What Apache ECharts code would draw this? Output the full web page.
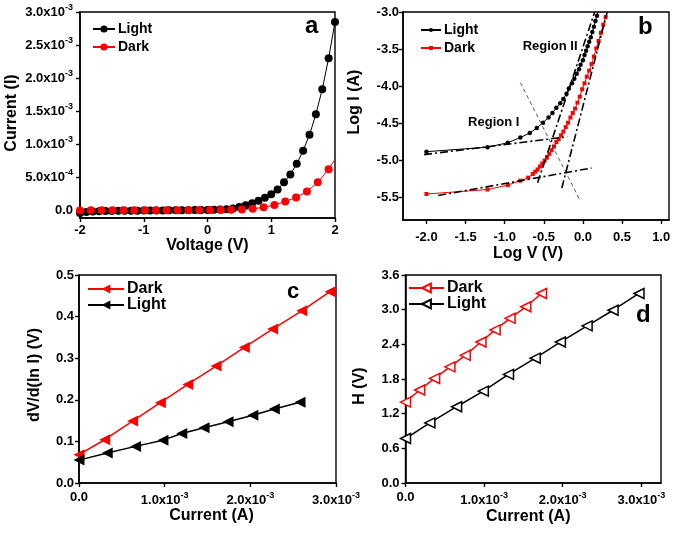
<!DOCTYPE html>
<html><head><meta charset="utf-8">
<script src="https://cdn.jsdelivr.net/npm/echarts@6/dist/echarts.min.js"></script>
<style>html,body{margin:0;padding:0;background:#fff}#c{width:674px;height:536px}</style>
</head><body><div id="c"></div>
<script>
// ---------- Panel a : I-V (current in mA units, converted below) ----------
const MILLI = 1e-3;
const aLightV = [-2.0,-1.9,-1.8,-1.7,-1.6,-1.5,-1.4,-1.3,-1.2,-1.1,-1.0,-0.9,-0.8,-0.7,-0.6,-0.5,-0.4,-0.3,-0.2,-0.1,
                 0.0,0.1,0.2,0.3,0.4,0.5,0.6,0.7,0.8,0.9,1.0,1.1,1.2,1.3,1.4,1.5,1.6,1.7,1.8,1.9,2.0];
const aLightI = [-0.045,-0.03,-0.022,-0.018,-0.015,-0.013,-0.012,-0.011,-0.010,-0.009,-0.008,-0.007,-0.006,-0.005,-0.004,-0.003,-0.002,-0.001,0,0.001,
                 0.002,0.004,0.007,0.012,0.025,0.045,0.075,0.105,0.14,0.185,0.24,0.31,0.42,0.54,0.70,0.90,1.14,1.45,1.83,2.30,2.85];
const aDarkV = [-2.00,-1.83,-1.66,-1.49,-1.32,-1.15,-0.98,-0.81,-0.64,-0.47,-0.30,-0.13,0.04,0.21,0.37,0.54,0.71,0.88,1.05,1.22,1.39,1.56,1.73,1.90,2.00];
const aDarkI = [-0.005,-0.004,-0.004,-0.003,-0.003,-0.002,-0.002,-0.002,-0.001,-0.001,0,0,0.001,0.002,0.005,0.01,0.02,0.041,0.076,0.13,0.19,0.28,0.42,0.62,0.77];
const aYTicks = [0,0.5e-3,1.0e-3,1.5e-3,2.0e-3,2.5e-3,3.0e-3];

// ---------- Panel b : log-log ----------
const bLightLogV = [-2.00,-1.22,-0.96,-0.80,-0.68,-0.59,-0.51,-0.44,-0.39,-0.34,-0.29,-0.25,-0.21,-0.18,-0.14,-0.11,-0.08,-0.05,-0.03,0.00,
                    0.02,0.04,0.06,0.08,0.10,0.12,0.14,0.16,0.18,0.20];
const bLightLogI = [-4.88,-4.82,-4.76,-4.69,-4.63,-4.56,-4.49,-4.42,-4.36,-4.29,-4.23,-4.17,-4.10,-4.03,-3.96,-3.90,-3.83,-3.77,-3.71,-3.65,
                    -3.58,-3.52,-3.46,-3.40,-3.34,-3.27,-3.20,-3.12,-3.05,-2.97];
const bDarkLogV = [-2.00,-1.22,-0.96,-0.80,-0.70,-0.64,-0.61,-0.58,-0.55,-0.52,-0.49,-0.46,-0.43,-0.40,-0.37,-0.34,-0.31,-0.28,-0.25,-0.22,
                   -0.19,-0.16,-0.13,-0.10,-0.07,-0.04,-0.01,0.02,0.05,0.08,0.11,0.14,0.17,0.20,0.23,0.26,0.29,0.32];
const bDarkLogI = [-5.45,-5.39,-5.33,-5.27,-5.23,-5.18,-5.15,-5.12,-5.08,-5.04,-5.00,-4.96,-4.91,-4.86,-4.81,-4.75,-4.71,-4.66,-4.61,-4.55,
                   -4.49,-4.42,-4.36,-4.30,-4.22,-4.14,-4.04,-3.96,-3.87,-3.79,-3.70,-3.60,-3.49,-3.39,-3.28,-3.17,-3.07,-2.96];
const bFitLightI  = [[-2.03,-4.92],[-0.20,-4.68]];
const bFitDarkI   = [[-1.85,-5.47],[0.11,-5.10]];
const bFitLightII = [[-0.58,-5.30],[0.15,-3.00]];
const bFitDarkII  = [[-0.27,-5.37],[0.31,-3.00]];
const bGuide      = [[-0.80,-3.95],[-0.05,-5.51]];
const bRegionNames = ['Region I','Region II'];
const bRegionPos   = [[-1.14,-4.48],[-0.42,-3.47]];
const bXTicks = [-2.0,-1.5,-1.0,-0.5,0.0,0.5,1.0];
const bYTicks = [-5.5,-5.0,-4.5,-4.0,-3.5,-3.0];

// ---------- Panel c : dV/d(ln I) vs I (current in mA units) ----------
const cDarkI  = [0.0,0.30,0.625,0.95,1.27,1.60,1.93,2.26,2.60,2.93];
const cDarkY  = [0.068,0.104,0.149,0.193,0.237,0.281,0.326,0.370,0.414,0.460];
const cLightI = [0.0,0.33,0.66,0.98,1.20,1.46,1.74,2.03,2.28,2.58];
const cLightY = [0.055,0.072,0.088,0.103,0.119,0.133,0.147,0.163,0.178,0.194];

// ---------- Panel d : H(I) vs I (current in mA units) ----------
const dDarkI  = [0.0,0.18,0.37,0.565,0.76,0.96,1.14,1.33,1.53,1.73];
const dDarkH  = [1.40,1.61,1.81,2.01,2.21,2.44,2.65,2.85,3.05,3.28];
const dLightI = [0.0,0.31,0.65,0.99,1.31,1.65,1.97,2.31,2.64,2.97];
const dLightH = [0.77,1.04,1.32,1.59,1.88,2.16,2.44,2.72,2.99,3.28];
const dXTicks = [0,1e-3,2e-3,3e-3];

// ---------- helpers ----------
const FONT = '"Liberation Sans", Arial, sans-serif';
const RED = '#ff0000', BLK = '#000000';
const zip = (xs, ys, kx = 1, ky = 1) => xs.map((x, i) => [x * kx, ys[i] * ky]);
const sci = v => {
  if (Math.abs(v) < 1e-12) return '0.0';
  const e = Math.floor(Math.log10(Math.abs(v)) + 1e-9);
  const m = v / Math.pow(10, e);
  return '{m|' + m.toFixed(1) + 'x10}{s|' + e + '}';
};
const rich = {
  m: {fontSize: 13, fontWeight: 'bold', fontFamily: FONT, color: '#000'},
  s: {fontSize: 9, fontWeight: 'bold', fontFamily: FONT, color: '#000', padding: [0, 0, 9, 0]}
};
function ax(o) {
  const a = {
    type: 'value', gridIndex: o.g, min: o.min, max: o.max,
    axisLine: {show: true, onZero: false, lineStyle: {color: '#000', width: 1.6}},
    axisTick: {show: true, inside: false, length: 4, lineStyle: {color: '#000', width: 1.4}},
    axisLabel: {color: '#000', fontWeight: 'bold', fontSize: 13, fontFamily: FONT, margin: o.margin,
                formatter: o.fmt, rich: rich},
    splitLine: {show: false},
    name: o.name, nameLocation: 'middle', nameGap: o.gap,
    nameTextStyle: {color: '#000', fontWeight: 'bold', fontSize: 16, fontFamily: FONT, padding: o.pad || 0}
  };
  if (o.interval !== undefined) a.interval = o.interval;
  if (o.ticks) { a.axisLabel.customValues = o.ticks; a.axisTick.customValues = o.ticks; }
  return a;
}
function legend(names, left, top, w, h, gap, fs, lh) {
  return {data: names, left: left, top: top, orient: 'vertical', itemWidth: w, itemHeight: h, itemGap: gap,
    selectedMode: false, padding: 0, formatter: n => n.split('|')[1],
    textStyle: {fontSize: fs, lineHeight: lh, fontWeight: 'bold', fontFamily: FONT, color: '#000', padding: [0, 0, 0, -2]}};
}
function fit(name, data, dashed) {
  return {name: name, type: 'line', xAxisIndex: 1, yAxisIndex: 1, data: data, symbol: 'none', silent: true, z: 5,
    lineStyle: dashed ? {color: '#333', width: 0.8, type: [4, 3]} : {color: '#000', width: 1.6, type: [8, 3, 2, 3]}};
}

const aDarkData = zip(aDarkV, aDarkI, 1, MILLI).map((p, i, arr) => i === arr.length - 1 ? {value: p, symbol: 'none'} : p);

const option = {
  animation: false,
  backgroundColor: '#fff',
  grid: [
    {left: 80, top: 12, width: 255, height: 206, show: true, borderColor: '#000', borderWidth: 1.4, backgroundColor: 'transparent'},
    {left: 403, top: 12, width: 266, height: 208, show: true, borderColor: '#000', borderWidth: 1.4, backgroundColor: 'transparent'},
    {left: 79, top: 275, width: 257, height: 208, show: true, borderColor: '#000', borderWidth: 1.4, backgroundColor: 'transparent'},
    {left: 405.5, top: 275, width: 255.5, height: 208, show: true, borderColor: '#000', borderWidth: 1.4, backgroundColor: 'transparent'}
  ],
  xAxis: [
    ax({g: 0, min: -2, max: 2, interval: 1, margin: 6, fmt: v => String(Math.round(v)), name: 'Voltage (V)', gap: 20}),
    ax({g: 1, min: -2.3, max: 1.1, ticks: bXTicks, margin: 11, fmt: v => v.toFixed(1), name: 'Log V (V)', gap: 26, pad: [0, 16, 0, 0]}),
    ax({g: 2, min: 0, max: 3e-3, interval: 1e-3, margin: 8, fmt: sci, name: 'Current (A)', gap: 17, pad: [0, 0, 0, 8]}),
    ax({g: 3, min: 0, max: 3.25e-3, ticks: dXTicks, margin: 8, fmt: sci, name: 'Current (A)', gap: 26, pad: [0, 10, 0, 0]})
  ],
  yAxis: [
    ax({g: 0, min: -0.12e-3, max: 3.0e-3, ticks: aYTicks, margin: 7, fmt: sci, name: 'Current (I)', gap: 60, pad: [0, 0, 0, 4]}),
    ax({g: 1, min: -5.8, max: -3.0, ticks: bYTicks, margin: 4, fmt: v => v.toFixed(1), name: 'Log I (A)', gap: 40, pad: [0, 0, 0, 28]}),
    ax({g: 2, min: 0, max: 0.5, interval: 0.1, margin: 5, fmt: v => v.toFixed(1), name: 'dV/d(ln I) (V)', gap: 36, pad: [0, 0, 0, 8]}),
    ax({g: 3, min: 0, max: 3.6, interval: 0.6, margin: 6, fmt: v => v.toFixed(1), name: 'H (V)', gap: 38, pad: [0, 14, 0, 0]})
  ],
  legend: [
    legend(['a|Light', 'a|Dark'], 92, 22, 22, 9, 4, 14, 14),
    legend(['b|Light', 'b|Dark'], 420, 23, 20, 5, 4, 14, 14),
    legend(['c|Dark', 'c|Light'], 87, 281, 36, 11, 0, 16, 15),
    legend(['d|Dark', 'd|Light'], 408, 280, 35, 11, 0, 16, 15)
  ],
  series: [
    {name: 'a|Light', type: 'line', xAxisIndex: 0, yAxisIndex: 0, data: zip(aLightV, aLightI, 1, MILLI),
     symbol: 'circle', symbolSize: 8, itemStyle: {color: BLK}, lineStyle: {color: BLK, width: 1}},
    {name: 'a|Dark', type: 'line', xAxisIndex: 0, yAxisIndex: 0, data: aDarkData,
     symbol: 'circle', symbolSize: 8, itemStyle: {color: RED}, lineStyle: {color: RED, width: 1}},

    {name: 'b|Light', type: 'line', xAxisIndex: 1, yAxisIndex: 1, data: zip(bLightLogV, bLightLogI),
     symbol: 'circle', symbolSize: 4.5, itemStyle: {color: BLK}, lineStyle: {color: BLK, width: 1}},
    {name: 'b|Dark', type: 'line', xAxisIndex: 1, yAxisIndex: 1, data: zip(bDarkLogV, bDarkLogI),
     symbol: 'rect', symbolSize: 4, itemStyle: {color: RED}, lineStyle: {color: RED, width: 1}},
    fit('fit1', bFitLightI), fit('fit2', bFitDarkI), fit('fit3', bFitLightII), fit('fit4', bFitDarkII),
    fit('guide', bGuide, true),
    {name: 'regions', type: 'scatter', xAxisIndex: 1, yAxisIndex: 1, silent: true, symbolSize: 2, z: 6,
     itemStyle: {color: 'rgba(255,255,255,0)'},
     data: bRegionPos.map((p, i) => ({name: bRegionNames[i], value: p})),
     label: {show: true, position: 'inside', formatter: p => p.name, color: '#000', opacity: 1,
             fontSize: 13, fontWeight: 'bold', fontFamily: FONT}},

    {name: 'c|Dark', type: 'line', xAxisIndex: 2, yAxisIndex: 2, data: zip(cDarkI, cDarkY, MILLI, 1),
     symbol: 'triangle', symbolRotate: 90, symbolSize: 11, itemStyle: {color: RED}, lineStyle: {color: RED, width: 1.5}},
    {name: 'c|Light', type: 'line', xAxisIndex: 2, yAxisIndex: 2, data: zip(cLightI, cLightY, MILLI, 1),
     symbol: 'triangle', symbolRotate: 90, symbolSize: 11, itemStyle: {color: BLK}, lineStyle: {color: BLK, width: 1.5}},

    {name: 'd|Dark', type: 'line', xAxisIndex: 3, yAxisIndex: 3, data: zip(dDarkI, dDarkH, MILLI, 1),
     symbol: 'triangle', symbolRotate: 90, symbolSize: 10, itemStyle: {color: '#fff', borderColor: RED, borderWidth: 1.5},
     lineStyle: {color: RED, width: 1.5}},
    {name: 'd|Light', type: 'line', xAxisIndex: 3, yAxisIndex: 3, data: zip(dLightI, dLightH, MILLI, 1),
     symbol: 'triangle', symbolRotate: 90, symbolSize: 10, itemStyle: {color: '#fff', borderColor: BLK, borderWidth: 1.5},
     lineStyle: {color: BLK, width: 1.5}}
  ],
  graphic: [
    {type: 'text', left: 305, top: 14, style: {text: 'a', font: 'bold 24px ' + FONT, fill: '#000'}},
    {type: 'text', left: 638, top: 15, style: {text: 'b', font: 'bold 24px ' + FONT, fill: '#000'}},
    {type: 'text', left: 287, top: 281, style: {text: 'c', font: 'bold 22px ' + FONT, fill: '#000'}},
    {type: 'text', left: 636, top: 303, style: {text: 'd', font: 'bold 24px ' + FONT, fill: '#000'}}
  ]
};
const chart = echarts.init(document.getElementById('c'), null, {renderer: 'canvas'});
chart.setOption(option);
</script>
</body></html>
